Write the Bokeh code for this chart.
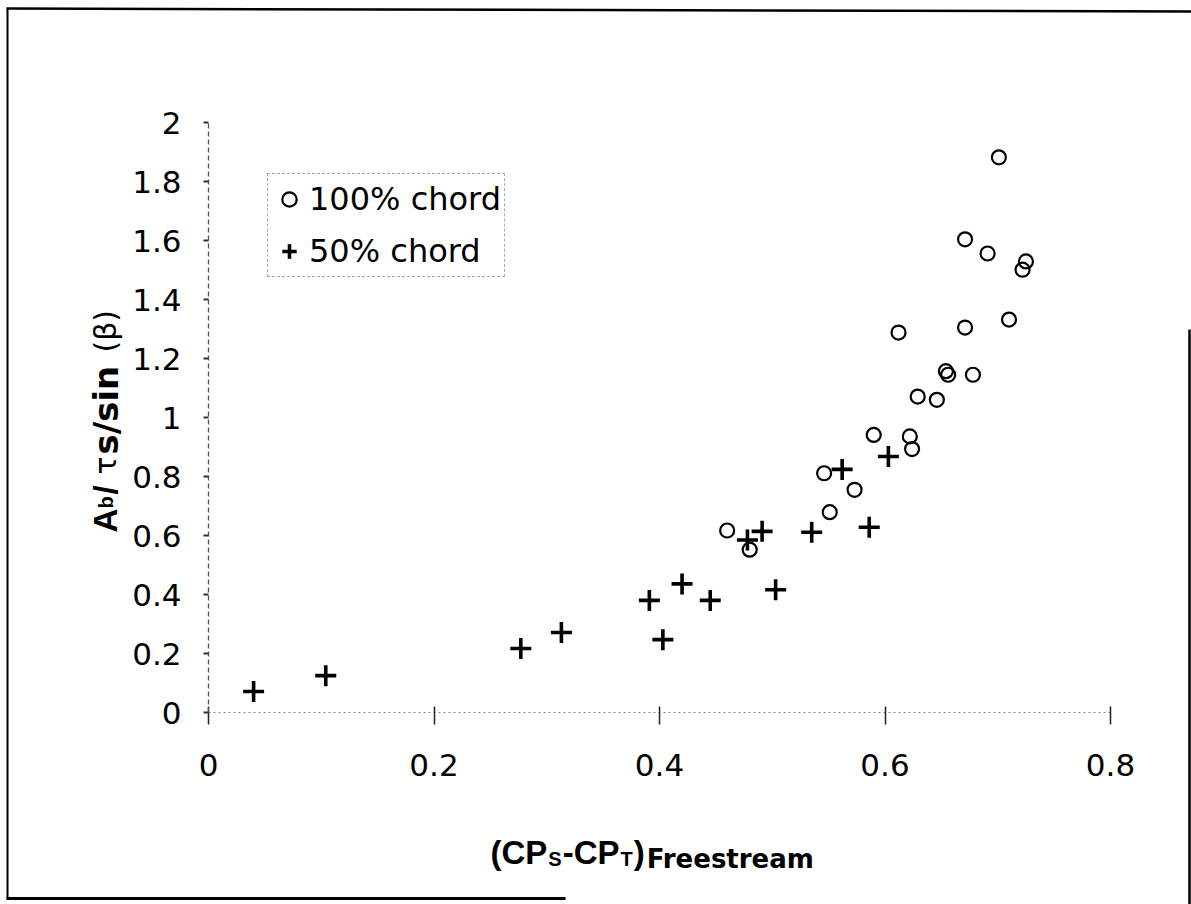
import math
from bokeh.plotting import figure
from bokeh.models import Range1d, FixedTicker, Label, Legend, LegendItem, Arrow
from bokeh.embed import file_html
from bokeh.resources import INLINE

# ---------------- data ----------------
x_100 = [0.460, 0.480, 0.546, 0.551, 0.573, 0.590, 0.612, 0.622, 0.624, 0.629,
         0.646, 0.654, 0.656, 0.671, 0.671, 0.678, 0.691, 0.701, 0.710, 0.722, 0.725]
y_100 = [0.617, 0.552, 0.811, 0.679, 0.755, 0.941, 1.288, 0.936, 0.893, 1.071,
         1.060, 1.157, 1.145, 1.305, 1.604, 1.145, 1.556, 1.882, 1.332, 1.501, 1.529]

x_50 = [0.040, 0.104, 0.277, 0.313, 0.391, 0.403, 0.420, 0.445, 0.478, 0.491,
        0.503, 0.535, 0.562, 0.586, 0.603]
y_50 = [0.071, 0.125, 0.217, 0.271, 0.380, 0.247, 0.436, 0.380, 0.585, 0.614,
        0.416, 0.611, 0.824, 0.628, 0.868]

x_ticks = [0, 0.2, 0.4, 0.6, 0.8]
x_tick_labels = ["0", "0.2", "0.4", "0.6", "0.8"]
y_ticks = [0, 0.2, 0.4, 0.6, 0.8, 1, 1.2, 1.4, 1.6, 1.8, 2]
y_tick_labels = ["0", "0.2", "0.4", "0.6", "0.8", "1", "1.2", "1.4", "1.6", "1.8", "2"]
legend_labels = ["100% chord", "50% chord"]
x_bounds = (0, 0.8)
y_bounds = (0, 2)

# ---------------- layout ----------------
W, H = 1191, 904
X0_PX, Y0_PX = 208, 712        # pixel position of the data origin
PX_X, PX_Y = 1127.5, 295.0     # pixels per data unit


def dx(cx):
    return (cx - X0_PX) / PX_X


def dy(cy):
    return (Y0_PX - cy) / PX_Y


p = figure(width=W, height=H, frame_width=W, frame_height=H,
           min_border=0, min_border_left=0, min_border_right=0,
           min_border_top=0, min_border_bottom=0,
           x_range=Range1d(dx(0), dx(W)), y_range=Range1d(dy(H), dy(0)),
           output_backend="svg", toolbar_location=None,
           background_fill_color="white", border_fill_color="white")
p.outline_line_color = None
p.xgrid.visible = False
p.ygrid.visible = False

TICK_FONT = "DejaVu Sans"

xa = p.xaxis[0]
xa.fixed_location = 0
xa.bounds = x_bounds
xa.ticker = FixedTicker(ticks=x_ticks)
xa.major_label_overrides = {t: l for t, l in zip(x_ticks, x_tick_labels)}
xa.major_label_text_font = TICK_FONT
xa.major_label_text_font_size = "31px"
xa.major_label_text_color = "black"
xa.major_label_standoff = 29
xa.major_tick_in = 6
xa.major_tick_out = 12
xa.major_tick_line_width = 1.5
xa.major_tick_line_color = "#222222"
xa.minor_tick_line_color = None
xa.axis_line_color = "#888888"
xa.axis_line_dash = "2 3"
xa.axis_line_width = 1.2

ya = p.yaxis[0]
ya.fixed_location = 0
ya.bounds = y_bounds
ya.ticker = FixedTicker(ticks=y_ticks)
ya.major_label_overrides = {t: l for t, l in zip(y_ticks, y_tick_labels)}
ya.major_label_text_font = TICK_FONT
ya.major_label_text_font_size = "31px"
ya.major_label_text_color = "black"
ya.major_label_standoff = 22
ya.major_tick_in = 0
ya.major_tick_out = 5
ya.major_tick_line_width = 2
ya.major_tick_line_color = "#333333"
ya.minor_tick_line_color = None
ya.axis_line_color = "#555555"
ya.axis_line_dash = "5 3"
ya.axis_line_width = 1.3

# ---------------- data marks ----------------
r100 = p.scatter(x_100, y_100, marker="circle", size=14, line_width=2.2,
                 line_color="black", fill_color=None)
r50 = p.scatter(x_50, y_50, marker="cross", size=21, line_width=3.6,
                line_color="black")

legend = Legend(items=[LegendItem(label=legend_labels[0], renderers=[r100]),
                       LegendItem(label=legend_labels[1], renderers=[r50])],
                location=(267, H - 277),
                label_text_font="DejaVu Sans", label_text_font_size="32px",
                label_text_color="black",
                glyph_width=36, glyph_height=44, label_height=44,
                label_standoff=2, spacing=8, padding=3, margin=0,
                border_line_color="#555555", border_line_dash="1 3",
                border_line_width=1.5, background_fill_alpha=0)
p.add_layout(legend)


def add_text(text, cx, cy, size, font="Liberation Sans", style="bold", angle=0.0):
    p.add_layout(Label(x=dx(cx), y=dy(cy), text=text, text_font=font,
                       text_font_style=style, text_font_size=f"{size}px",
                       text_color="black", text_align="left",
                       text_baseline="alphabetic", angle=angle))


# x-axis title: (CP_S-CP_T)_Freestream
LSB = {'(': 0.333, ')': 0.333, 'C': 0.722, 'P': 0.667, 'S': 0.667, 'T': 0.611, '-': 0.333}


def wid(s, size):
    return sum(LSB[c] for c in s) * size


main_base, sub_base = 852, 858
cx = 490
for txt, size, base in [("(CP", 33, main_base), ("S", 20, sub_base), ("-CP", 33, main_base),
                        ("T", 20, sub_base), (")", 33, main_base)]:
    add_text(txt, cx, base, size)
    cx += wid(txt, size) + 1
add_text("Freestream", cx + 1, sub_base, 26, font="DejaVu Sans")

# y-axis title: A_b/ τs/sin(β)  (rotated, reading upwards)
ang = math.pi / 2
ybase = 105
add_text("A", ybase, 532, 33, angle=ang)
add_text("b", ybase, 508, 20, angle=ang)
add_text("/", ybase, 494, 33, angle=ang)
add_text("τ", ybase, 474, 30, font="DejaVu Sans", style="normal", angle=ang)
add_text("s/sin", ybase, 454, 34, font="DejaVu Sans", angle=ang)
add_text("(β)", ybase, 352, 30, font="DejaVu Sans", style="normal", angle=ang)


# ---------------- scanned page border ----------------
def border(x0, y0, x1, y1, w):
    p.add_layout(Arrow(end=None, x_start=dx(x0), y_start=dy(y0), x_end=dx(x1), y_end=dy(y1),
                       line_width=w, line_color="black"))


border(6, 8, 1191, 11, 2.5)
border(7, 8, 7, 898, 2)
border(1189, 329, 1189, 904, 2.5)
border(6, 898, 565, 898, 3)

open("out.html", "w").write(file_html(p, INLINE))
